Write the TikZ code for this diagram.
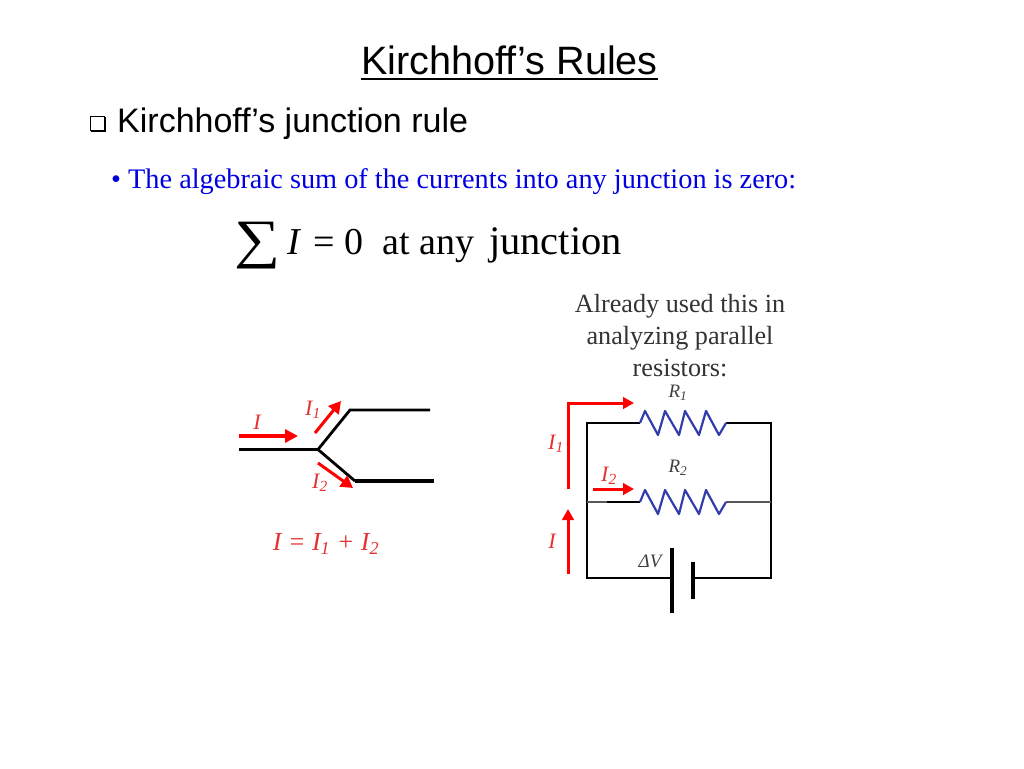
\documentclass[tikz,border=0pt]{standalone}
\usepackage{fontspec}
\setmainfont{Liberation Serif}
\setsansfont{Liberation Sans}
\usetikzlibrary{arrows.meta}
\definecolor{wirered}{RGB}{255,0,0}
\definecolor{labelred}{RGB}{228,50,50}
\definecolor{coilblue}{RGB}{50,60,170}
\definecolor{textblue}{RGB}{0,0,225}
\tikzset{
  wire/.style={line width=2.8pt,black,line join=miter},
  thinwire/.style={line width=1.8pt,black!65},
  coil/.style={line width=2.2pt,coilblue,line join=round},
  current/.style={line width=3pt,wirered,-{Triangle[length=11pt,width=11.5pt]}},
  redlabel/.style={labelred,font=\fontsize{22}{24}\selectfont\itshape,inner sep=0pt},
  blacklabel/.style={black!75,font=\fontsize{19}{20}\selectfont\itshape,inner sep=0pt},
  formula/.style={font=\fontsize{38}{42}\selectfont,inner sep=0pt,anchor=base west},
}
\begin{document}
\begin{tikzpicture}[x=1pt,y=-1pt]
  \useasboundingbox (0,0) rectangle (1024,768);
  % headings
  \node[font=\fontsize{39.6}{44}\sffamily\selectfont,inner sep=0pt] (title) at (509.5,60) {Kirchhoff’s Rules};
  \coordinate (titleleft) at (361,79);
  \coordinate (titleright) at (658,79);
  \draw[line width=1.8pt] (titleleft) -- (titleright);
  \node[fill=black,minimum size=15pt,inner sep=0pt] (tickshadow) at (98.5,124.5) {};
  \node[draw,fill=white,line width=1.1pt,minimum size=13.5pt,inner sep=0pt] (tick) at (97.5,123.5) {};
  \node[font=\fontsize{34}{38}\sffamily\selectfont,inner sep=0pt,anchor=west] (rule) at (117,124) {Kirchhoff’s junction rule};
  \node[font=\fontsize{28.3}{30}\selectfont,textblue,inner sep=0pt,anchor=base west] (sumtext) at (111,188) {• The algebraic sum of the currents into any junction is zero:};
  % formula
  \node[font=\fontsize{54}{60}\selectfont,xscale=1.2,inner sep=0pt,anchor=base] (sigma) at (258,257) {∑};
  \node[formula] (formulai) at (287,254) {\textit{I}};
  \node[formula] (formulaeq) at (313,254) {=};
  \node[formula] (formulazero) at (344,254) {0};
  \node[formula] (formulaat) at (382,254) {at any};
  \node[formula,font=\fontsize{40.5}{42}\selectfont] (formulaj) at (489,254) {junction};
  \node[font=\fontsize{26.2}{32}\selectfont,black!80,align=center,inner sep=0pt] (note) at (680,336) {Already used this in\\analyzing parallel\\resistors:};

  % junction
  \coordinate (in) at (239,449.5);
  \coordinate (split) at (318,449.5);
  \coordinate (upbend) at (350,410);
  \coordinate (upend) at (430,410);
  \coordinate (downbend) at (355,481);
  \coordinate (downend) at (434,481);
  \draw[wire] (in) -- (split) -- (upbend) -- (upend);
  \draw[wire] (split) -- (downbend);
  \draw[wire,line width=4pt] (downbend) -- (downend);
  \coordinate (ia) at (239,436);
  \coordinate (ib) at (298,436);
  \coordinate (ic) at (315,433);
  \coordinate (id) at (341,401);
  \coordinate (ie) at (318,463);
  \coordinate (if) at (353,488);
  \draw[current,line width=4pt,-{Triangle[length=13pt,width=13pt]}] (ia) -- (ib);
  \draw[current,-{Triangle[length=12pt,width=13pt]}] (ic) -- (id);
  \draw[current,-{Triangle[length=12pt,width=13pt]}] (ie) -- (if);
  \node[redlabel] (ilabel) at (257,422) {I};
  \node[redlabel] (ionelabel) at (313,410) {I\textsubscript{1}};
  \node[redlabel] (itwolabel) at (320,483) {I\textsubscript{2}};
  \node[redlabel,font=\fontsize{26}{28}\selectfont\itshape] (sumlabel) at (326,544) {I = I\textsubscript{1} + I\textsubscript{2}};

  % circuit
  \coordinate (tl) at (587,423);
  \coordinate (tr) at (771,423);
  \coordinate (bl) at (587,578);
  \coordinate (br) at (771,578);
  \coordinate (onein) at (640,423);
  \coordinate (oneout) at (726,423);
  \coordinate (ml) at (587,502);
  \coordinate (mr) at (771,502);
  \coordinate (twoin) at (640,502);
  \coordinate (twoout) at (726,502);
  \coordinate (dark) at (607,502);
  \coordinate (plusb) at (672,578);
  \coordinate (minusb) at (693,578);
  \coordinate (plustop) at (672,548);
  \coordinate (plusbot) at (672,613);
  \coordinate (minustop) at (693,562);
  \coordinate (minusbot) at (693,599);
  \draw[wire] (onein) -- (tl) -- (bl) -- (plusb);
  \draw[wire] (oneout) -- (tr) -- (br) -- (minusb);
  \draw[thinwire] (ml) -- (twoin);
  \draw[thinwire] (twoout) -- (mr);
  \draw[wire] (dark) -- (twoin);
  \draw[wire,line width=3.5pt] (plustop) -- (plusbot);
  \draw[wire,line width=3.5pt] (minustop) -- (minusbot);
  \draw[coil] (onein) -- ++(5,-12) -- ++(13,24) -- ++(7,-24) -- ++(14,24) -- ++(6,-24) -- ++(14,24) -- ++(7,-24) -- ++(13,24) -- (oneout);
  \draw[coil] (twoin) -- ++(5,-12) -- ++(13,24) -- ++(7,-24) -- ++(14,24) -- ++(6,-24) -- ++(14,24) -- ++(7,-24) -- ++(13,24) -- (twoout);
  \coordinate (pa) at (568,574);
  \coordinate (pb) at (568,509);
  \coordinate (pc) at (568,489);
  \coordinate (pd) at (568,403);
  \coordinate (pe) at (634,403);
  \coordinate (pf) at (593,489);
  \coordinate (pg) at (634,489);
  \draw[current] (pa) -- (pb);
  \draw[current] (pc) -- (pd) -- (pe);
  \draw[current] (pf) -- (pg);
  \node[blacklabel] (rone) at (678,393) {R\textsubscript{1}};
  \node[blacklabel] (rtwo) at (678,468) {R\textsubscript{2}};
  \node[blacklabel] (dv) at (650,561) {ΔV};
  \node[redlabel] (ionec) at (556,444) {I\textsubscript{1}};
  \node[redlabel] (itwoc) at (609,476) {I\textsubscript{2}};
  \node[redlabel] (icirc) at (552,541) {I};
\end{tikzpicture}
\end{document}
